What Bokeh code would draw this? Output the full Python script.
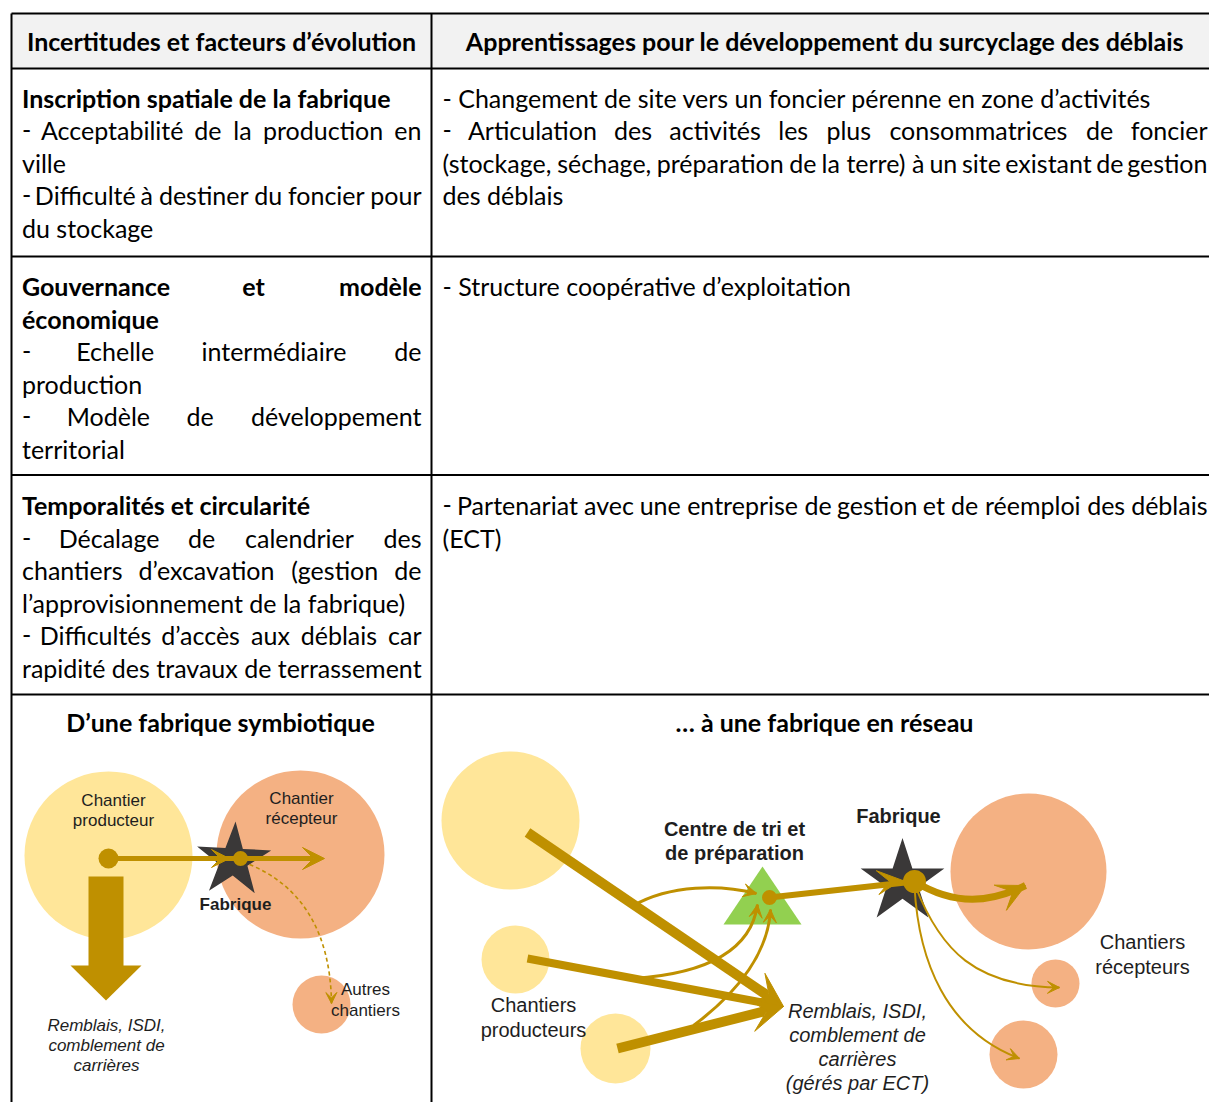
import math
from bokeh.plotting import figure
from bokeh.models import Range1d, Arrow, VeeHead
from bokeh.core.properties import value
from bokeh.embed import file_html
from bokeh.resources import INLINE

# ---------------- DATA ----------------
header_left = "Incertitudes et facteurs d’évolution"
header_right = "Apprentissages pour le développement du surcyclage des déblais"

# (text, bold, kind) kind: J = justified line, L = left aligned (last line of paragraph)
left_rows = [
    [("Inscription spatiale de la fabrique", True, "L"),
     ("- Acceptabilité de la production en", False, "J"),
     ("ville", False, "L"),
     ("- Difficulté à destiner du foncier pour", False, "J"),
     ("du stockage", False, "L")],
    [("Gouvernance et modèle", True, "J"),
     ("économique", True, "L"),
     ("- Echelle intermédiaire de", False, "J"),
     ("production", False, "L"),
     ("- Modèle de développement", False, "J"),
     ("territorial", False, "L")],
    [("Temporalités et circularité", True, "L"),
     ("- Décalage de calendrier des", False, "J"),
     ("chantiers d’excavation (gestion de", False, "J"),
     ("l’approvisionnement de la fabrique)", False, "L"),
     ("- Difficultés d’accès aux déblais car", False, "J"),
     ("rapidité des travaux de terrassement", False, "L")],
]
right_rows = [
    [("- Changement de site vers un foncier pérenne en zone d’activités", False, "L"),
     ("- Articulation des activités les plus consommatrices de foncier", False, "J"),
     ("(stockage, séchage, préparation de la terre) à un site existant de gestion", False, "J"),
     ("des déblais", False, "L")],
    [("- Structure coopérative d’exploitation", False, "L")],
    [("- Partenariat avec une entreprise de gestion et de réemploi des déblais", False, "J"),
     ("(ECT)", False, "L")],
]
title_left = "D’une fabrique symbiotique"
title_right = "… à une fabrique en réseau"

row_lines_y = [13, 68, 256, 474.5, 694]
row_first_baseline = [107, 295.5, 514.5]
line_step = 32.6

# diagram 1 (symbiotic)
d1_circles_x = [108, 300, 321]
d1_circles_y = [855, 854, 1004]
d1_circles_r = [84, 84, 29]
d1_circles_c = ["#FFE699", "#F4B183", "#F4B183"]
d1_labels = [("Chantier", 113, 807, "normal"), ("producteur", 113, 827, "normal"),
             ("Chantier", 301, 805, "normal"), ("récepteur", 301, 825, "normal"),
             ("Fabrique", 235, 911, "bold"),
             ("Autres", 365, 996, "normal"), ("chantiers", 365, 1017, "normal"),
             ("Remblais, ISDI,", 106, 1032, "italic"), ("comblement de", 106, 1052, "italic"),
             ("carrières", 106, 1072, "italic")]

# diagram 2 (network)
d2_prod_x = [510, 515, 615]
d2_prod_y = [820, 959, 1048]
d2_prod_r = [69, 34, 35]
d2_rec_x = [1028, 1055, 1023]
d2_rec_y = [871, 983, 1054]
d2_rec_r = [78, 24, 34]
d2_labels = [("Centre de tri et", 734, 836, "bold"), ("de préparation", 734, 860, "bold"),
             ("Fabrique", 898, 823, "bold"),
             ("Chantiers", 533, 1012, "normal"), ("producteurs", 533, 1037, "normal"),
             ("Chantiers", 1142, 949, "normal"), ("récepteurs", 1142, 974, "normal"),
             ("Remblais, ISDI,", 857, 1018, "italic"), ("comblement de", 857, 1042, "italic"),
             ("carrières", 857, 1066, "italic"), ("(gérés par ECT)", 857, 1090, "italic")]

# ---------------- STYLE ----------------
GOLD = "#BF9000"
STAR = "#3A3838"
GREEN = "#92D050"
TFONT = "Lato"
TSIZE = 25
DFONT = "Liberation Sans"
CAL_PX = 26.6
BASE_SHIFT = 0.4

CAL_R = {' ': 226, '-': 306, '(': 303, ')': 303, ',': 250, '.': 252, '’': 250,
         'a': 479, 'b': 525, 'c': 423, 'd': 525, 'e': 498, 'f': 305, 'g': 471, 'h': 525,
         'i': 229, 'j': 239, 'k': 455, 'l': 229, 'm': 799, 'n': 525, 'o': 527, 'p': 525,
         'q': 525, 'r': 349, 's': 391, 't': 335, 'u': 525, 'v': 452, 'w': 715, 'x': 433,
         'y': 453, 'z': 395, 'A': 579, 'C': 533, 'D': 615, 'E': 488, 'G': 631, 'I': 252,
         'M': 855, 'P': 517, 'S': 459, 'T': 487, 'R': 543,
         'é': 498, 'è': 498, 'à': 479, 'ç': 423}
CAL_B = {' ': 226, '-': 306, '(': 312, ')': 312, ',': 258, '’': 267,
         'a': 494, 'b': 537, 'c': 418, 'd': 537, 'e': 503, 'f': 316, 'g': 474, 'h': 537,
         'i': 246, 'j': 255, 'k': 480, 'l': 246, 'm': 813, 'n': 537, 'o': 538, 'p': 537,
         'q': 537, 'r': 355, 's': 399, 't': 347, 'u': 537, 'v': 474, 'w': 745, 'x': 459,
         'y': 474, 'z': 397, 'G': 630, 'I': 267, 'T': 497, 'A': 606, 'D': 630,
         'é': 503, 'è': 503, 'à': 494}


def cw(s, bold):
    t = CAL_B if bold else CAL_R
    return sum(t.get(ch, 500) for ch in s) * CAL_PX / 1000.0


W, H = 1209, 1102
p = figure(width=W, height=H, x_range=Range1d(0, W), y_range=Range1d(H, 0),
           output_backend="svg", toolbar_location=None, x_axis_type=None, y_axis_type=None,
           min_border=0)
p.outline_line_color = None
p.background_fill_color = "white"

groups = {}


def add(x, y, s, font, size, style, align, color="#000000"):
    key = (font, size, style, align, color)
    g = groups.setdefault(key, {"x": [], "y": [], "t": []})
    g["x"].append(x)
    g["y"].append(y - BASE_SHIFT * size)
    g["t"].append(s)


def place_line(s, bold, kind, x0, x1, y):
    style = "bold" if bold else "normal"
    if kind == "L":
        add(x0, y, s, TFONT, TSIZE, style, "left")
        return
    words = s.split(" ")
    widths = [cw(w_, bold) for w_ in words]
    gap = (x1 - x0 - sum(widths)) / (len(words) - 1)
    x = x0
    for i, (w_, wd) in enumerate(zip(words, widths)):
        if i == 0:
            add(x, y, w_, TFONT, TSIZE, style, "left")
        elif i == len(words) - 1:
            add(x1, y, w_, TFONT, TSIZE, style, "right")
        else:
            add(x + wd / 2, y, w_, TFONT, TSIZE, style, "center")
        x += wd + gap


# ---------------- TABLE ----------------
p.quad(left=11, right=1215, top=13, bottom=68, fill_color="#F2F2F2", line_color=None)
p.segment(x0=[11] * len(row_lines_y), y0=row_lines_y, x1=[1215] * len(row_lines_y), y1=row_lines_y,
          line_color="black", line_width=2)
p.segment(x0=[11, 431], y0=[13, 13], x1=[11, 431], y1=[1110, 1110], line_color="black", line_width=2)

add(221, 50, header_left, TFONT, TSIZE, "bold", "center")
add(824.5, 50, header_right, TFONT, TSIZE, "bold", "center")

for rows, x0, x1 in ((left_rows, 21.5, 421), (right_rows, 442, 1207)):
    for r, lines in enumerate(rows):
        for k, (s, bold, kind) in enumerate(lines):
            place_line(s, bold, kind, x0, x1, row_first_baseline[r] + k * line_step)

add(220, 731.5, title_left, TFONT, TSIZE, "bold", "center")
add(824, 731.5, title_right, TFONT, TSIZE, "bold", "center")


def star_xy(cx, cy, R, rot=0.0):
    xs, ys = [], []
    for k in range(10):
        rad = R if k % 2 == 0 else R * 0.382
        a = math.radians(-90 + rot + k * 36)
        xs.append(cx + rad * math.cos(a))
        ys.append(cy + rad * math.sin(a))
    return xs, ys


def head_at(x, y, dx, dy, size, color=GOLD):
    n = math.hypot(dx, dy)
    ux, uy = dx / n, dy / n
    p.add_layout(Arrow(x_start=x - 2 * ux, y_start=y - 2 * uy, x_end=x, y_end=y,
                       line_alpha=0, line_width=0.1,
                       end=VeeHead(size=size, fill_color=color, line_color=color, line_width=1)))


def curve(P0, P1, P2, P3, width, head, dash="solid"):
    p.bezier(x0=[P0[0]], y0=[P0[1]], x1=[P3[0]], y1=[P3[1]], cx0=[P1[0]], cy0=[P1[1]],
             cx1=[P2[0]], cy1=[P2[1]], line_color=GOLD, line_width=width, line_dash=dash)
    if head:
        head_at(P3[0], P3[1], P3[0] - P2[0], P3[1] - P2[1], head)


def straight(xs, ys, xe, ye, width, head):
    p.add_layout(Arrow(x_start=xs, y_start=ys, x_end=xe, y_end=ye, line_color=GOLD,
                       line_width=width,
                       end=VeeHead(size=head, fill_color=GOLD, line_color=GOLD, line_width=1)))


# ---------------- DIAGRAM 1 ----------------
p.circle(x=d1_circles_x, y=d1_circles_y, radius=d1_circles_r, fill_color=d1_circles_c, line_color=None)
sx, sy = star_xy(233, 860, 39, 3)
p.patch(sx, sy, fill_color=STAR, line_color=None)
# big down arrow
shaft_l, shaft_r, shaft_top, head_top, head_l, head_r, tip_y = 88, 123, 876, 965, 70, 141, 1000
p.quad(left=shaft_l, right=shaft_r, top=shaft_top, bottom=head_top + 1, fill_color=GOLD, line_color=None)
p.patch([head_l, head_r, (head_l + head_r) / 2], [head_top, head_top, tip_y], fill_color=GOLD, line_color=None)
straight(108, 858, 324, 858, 5, 22)
head_at(229, 858, 1, 0, 18)
curve((249, 864), (300, 885), (330, 930), (331, 1003), 1.6, 11, dash="4 3")
p.circle(x=[108, 240], y=[858, 858], radius=[10, 7.5], fill_color=GOLD, line_color=None)

for s, x, y, st in d1_labels:
    add(x, y, s, DFONT, 17, st, "center", "#1E1E1E")

# ---------------- DIAGRAM 2 ----------------
p.circle(x=d2_prod_x, y=d2_prod_y, radius=d2_prod_r, fill_color="#FFE699", line_color=None)
p.circle(x=d2_rec_x, y=d2_rec_y, radius=d2_rec_r, fill_color="#F4B183", line_color=None)
p.patch([723, 801, 762], [924, 924, 866], fill_color=GREEN, line_color=None)
sx, sy = star_xy(902, 881.5, 44, 0)
p.patch(sx, sy, fill_color=STAR, line_color=None)

# thin curves to the sorting centre
curve((633, 905), (670, 884), (720, 884), (756, 893), 3, 13)
curve((633, 978), (722, 972), (752, 940), (757, 904), 3, 13)
curve((693, 1025), (740, 990), (768, 950), (770, 909), 3, 13)
# thick straight arrows to backfill
straight(527, 832, 783, 1006, 10, 34)
straight(527, 958, 783, 1006, 8, 34)
straight(617, 1048, 783, 1006, 10, 34)
# centre -> fabrique
p.segment(x0=[769], y0=[897], x1=[914], y1=[881], line_color=GOLD, line_width=6)
head_at(901, 879.5, 145, -16, 24)
# fabrique -> receivers
curve((914, 881), (955, 906), (990, 902), (1025, 885), 7, 28)
curve((915, 886), (940, 950), (975, 986), (1059, 987), 2, 12)
curve((914, 886), (918, 960), (945, 1030), (1019, 1058), 2, 12)
p.circle(x=[769, 914], y=[897, 881], radius=[7.5, 11.5], fill_color=GOLD, line_color=None)

for s, x, y, st in d2_labels:
    add(x, y, s, DFONT, 20, st, "center", "#1E1E1E")

for (font, size, style, align, color), g in groups.items():
    p.text(x=g["x"], y=g["y"], text=g["t"], text_font=value(font), text_font_size=f"{size}px",
           text_font_style=style, text_align=align, text_baseline="alphabetic", text_color=color)

with open("out.html", "w", encoding="utf-8") as f:
    f.write(file_html(p, INLINE))
